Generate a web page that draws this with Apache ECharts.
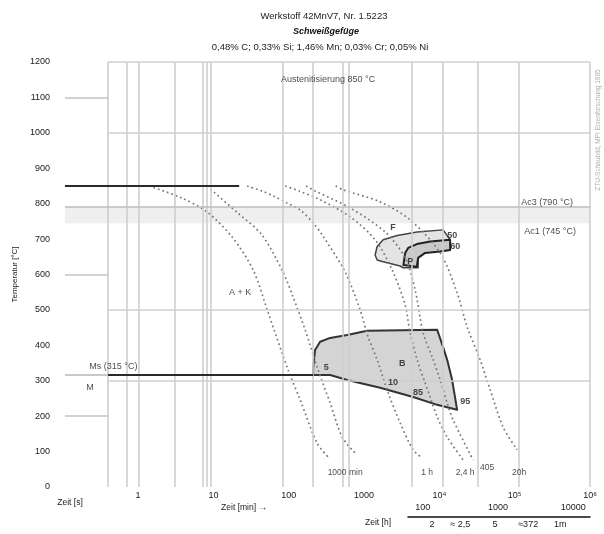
<!DOCTYPE html>
<html><head><meta charset="utf-8">
<script src="https://cdn.jsdelivr.net/npm/echarts@6.0.0/dist/echarts.min.js"></script>
<style>html,body{margin:0;padding:0;background:#fff;}#chart{width:604px;height:534px;}</style>
</head><body><div id="chart"></div>
<script>
// ---------------- data ----------------
const titleLines = ['Werkstoff 42MnV7, Nr. 1.5223', 'Schweißgefüge', '0,48% C; 0,33% Si; 1,46% Mn; 0,03% Cr; 0,05% Ni'];
const timeTickExponents = [0, 1, 2, 3, 4, 5, 6];
const timeTickLabels = ['1', '10', '100', '1000', '10⁴', '10⁵', '10⁶'];
const minuteTicks = [100, 1000, 10000];
const row3TickSeconds = [8000, 18900, 55000, 151000, 402000];
const row3TickLabels = ['2', '≈ 2,5', '5', '≈372', '1m'];
const gridTimes = [0.4, 0.71, 1.03, 3.1, 7.3, 8.2, 9.3, 84, 211, 527, 634, 4360, 10900, 32700, 111000, 1000000];
const gridTemps = [1200, 1000, 500, 300];
const sideTickTemps = [1100, 600, 200];
const austenitizingTemp = 850, austenitizingUntil = 22;
const ac3Temp = 790, ac1Temp = 745;
const msTemp = 316, msUntil = 211;

// cooling curves [time s, temperature °C]
const curve1 = [[1.4,850],[3.8,816],[8.2,777],[17.7,706],[33.7,613],[53,494],[98,331],[142,246],[238,124],[333,85]];
const curve2 = [[8.2,850],[21,774],[44,712],[84,607],[114,537],[165,444],[245,331],[355,237],[512,141],[762,96]];
const curve3 = [[28,850],[45,835],[62,822],[95,802],[142,782],[211,746],[278,712],[561,607],[887,500],[1132,424],[1493,359],[2089,266],[3013,181],[4487,105],[5916,82]];
const curve4 = [[90,850],[140,835],[261,811],[653,763],[1403,698],[2360,613],[3516,514],[4093,435],[5224,350],[6471,294],[7551,254],[9354,198],[12700,141],[20700,76]];
const curve5 = [[170,850],[230,835],[653,788],[1905,720],[3516,647],[4775,556],[6095,435],[8017,367],[10260,302],[12700,237],[15240,189],[28120,76]];
const curve6 = [[420,850],[527,839],[1637,805],[4093,754],[10260,661],[17220,548],[23390,452],[34830,359],[47320,274],[70310,169],[107900,105]];

// transformation regions [time s, temperature °C]
const ferriteArea = [[11220,726],[5070,720],[2754,710],[1795,698],[1493,679],[1403,655],[1493,641],[1795,636],[3013,624],[3304,619],[5224,619],[5224,647],[6471,664],[10260,669],[13900,672],[13900,698]];
const pearliteArea = [[13900,698],[7551,693],[5023,686],[3855,675],[3516,661],[3334,627],[5023,622],[5224,647],[6471,661],[10260,665],[13900,669]];
const bainiteArea = [[211,316],[211,336],[224,387],[261,410],[355,421],[597,429],[1099,441],[9354,444],[11220,395],[12700,359],[14790,302],[17220,218],[9354,232],[4487,254],[1637,280],[597,302],[355,316],[238,316]];

// texts anchored in the diagram [time s, temperature °C, text]
const plotNotes = [[333,1150,'Austenitisierung 850 °C'],[270000,802,'Ac3 (790 °C)'],[295000,720,'Ac1 (745 °C)'],[22.6,548,'A + K'],[0.47,339,'Ms (315 °C)'],[0.23,280,'M']];
const regionLabels = [[2433,732,'F'],[4093,636,'P'],[14800,709,'50'],[16220,679,'60'],[3206,350,'B'],[314,336,'5'],[2433,294,'10'],[5224,266,'85'],[22000,240,'95']];
const curveEndLabels = [[561,40,'1000 min'],[6887,40,'1 h'],[22000,40,'2,4 h'],[43150,56,'405'],[114800,40,'20h']];

// ---------------- layout / style ----------------
const W = 604, H = 534;
const gridLeft = 65, gridRight = 14, gridTop = 62, gridBottom = 47;
const xMinExp = -0.97, xMaxExp = 6;
const pxPerDecade = (W - gridLeft - gridRight) / (xMaxExp - xMinExp);
const subAxisLeft = 408;
const subMinExp = xMaxExp - (W - gridRight - subAxisLeft) / pxPerDecade;
const FONT = 'Liberation Sans, Arial, sans-serif';
const L = v => Math.log10(v);
const xInner = L(gridTimes[0]);

const lightGrid = {color:'#cfcfcf', width:1.6, type:'solid'};
const darkLine = {color:'#2a2a2a', width:2, type:'solid'};

const regions = [
  {pts: ferriteArea, fill:'#e4e4e4', stroke:'#444', lw:1.5},
  {pts: pearliteArea, fill:'#c9c9c9', stroke:'#222', lw:2},
  {pts: bainiteArea, fill:'#d4d4d4', stroke:'#333', lw:2}
];
const curves = [curve1, curve2, curve3, curve4, curve5, curve6];

function labelOf(list, labels, v, conv){
  for (let i=0;i<list.length;i++){ if (Math.abs(conv(list[i]) - v) < 1e-6) return labels[i]; }
  return '';
}

const series = [];
series.push({
  type:'line', data:[], silent:true, z:1, animation:false,
  markArea:{silent:true, itemStyle:{color:'#efefef'}, data:[[{coord:[xMinExp, ac1Temp]},{coord:[xMaxExp, ac3Temp]}]]},
  markLine:{silent:true, symbol:['none','none'], label:{show:false}, lineStyle:lightGrid, animation:false,
    data: [].concat(
      gridTimes.map(t => ({xAxis: L(t)})),
      gridTemps.map(T => [{coord:[xInner, T]},{coord:[xMaxExp, T]}]),
      sideTickTemps.map(T => [{coord:[xMinExp, T], lineStyle:{color:'#c4c4c4', width:1.5}},{coord:[xInner, T]}]),
      [[{coord:[xMinExp, ac3Temp], lineStyle:{color:'#bdbdbd', width:1.6}},{coord:[xMaxExp, ac3Temp]}]],
      [[{coord:[xMinExp, msTemp], lineStyle:{color:'#c8c8c8', width:2}},{coord:[xInner, msTemp]}]]
    )}
});
series.push({
  type:'custom', z:2, animation:false, silent:true,
  data: regions.map((r,i) => [i, 0]),
  renderItem: function(params, api){
    const r = regions[params.dataIndex];
    const pts = r.pts.map(p => api.coord([L(p[0]), p[1]]));
    return {type:'polygon', shape:{points:pts}, style:{fill:r.fill, stroke:r.stroke, lineWidth:r.lw, lineJoin:'round'}};
  }
});
curves.forEach((c, i) => {
  series.push({
    type:'line', name:'k'+i, z:3, animation:false, silent:true, showSymbol:false, smooth:0.3,
    data: c.map(p => [L(p[0]), p[1]]),
    lineStyle:{color:'#777', width:1.7, type:[1.7, 3], cap:'butt'}
  });
});
series.push({
  type:'line', data:[], z:4, silent:true, animation:false,
  markLine:{silent:true, symbol:['none','none'], label:{show:false}, lineStyle:darkLine, animation:false,
    data:[
      [{coord:[xMinExp, austenitizingTemp]},{coord:[L(austenitizingUntil), austenitizingTemp]}],
      [{coord:[xInner, msTemp]},{coord:[L(msUntil), msTemp]}]
    ]}
});
function textSeries(list, style){
  return {
    type:'scatter', z:6, silent:true, animation:false, symbolSize:0,
    data: list.map(a => [L(a[0]), a[1], a[2]]),
    label:Object.assign({show:true, position:'inside', formatter: p => p.data[2], fontFamily:FONT, color:'#1a1a1a'}, style)
  };
}
series.push(textSeries(plotNotes, {fontSize:9}));
series.push(textSeries(regionLabels, {fontSize:9, fontWeight:'bold'}));
series.push(textSeries(curveEndLabels, {fontSize:8.5}));

const option = {
  animation:false,
  backgroundColor:'#fff',
  textStyle:{fontFamily:FONT},
  grid:[
    {left:gridLeft, right:gridRight, top:gridTop, bottom:gridBottom},
    {left:subAxisLeft, right:gridRight, top:516, height:1}
  ],
  xAxis:[
    {type:'value', gridIndex:0, min:xMinExp, max:xMaxExp,
     axisLine:{show:false}, axisTick:{show:false}, splitLine:{show:false},
     axisLabel:{customValues:timeTickExponents, formatter: v => labelOf(timeTickExponents, timeTickLabels, v, x=>x),
       margin:4, fontSize:9, color:'#1a1a1a', fontFamily:FONT}},
    {type:'value', gridIndex:1, min:subMinExp, max:xMaxExp, position:'top',
     axisLine:{show:true, lineStyle:{color:'#111', width:1.5}}, axisTick:{show:false}, splitLine:{show:false},
     axisLabel:{customValues:minuteTicks.map(m => L(m*60)), formatter: v => labelOf(minuteTicks, minuteTicks.map(String), v, m => L(m*60)),
       margin:4, fontSize:9, color:'#1a1a1a', fontFamily:FONT, showMinLabel:true, showMaxLabel:true}},
    {type:'value', gridIndex:1, min:subMinExp, max:xMaxExp, position:'bottom',
     axisLine:{show:false}, axisTick:{show:false}, splitLine:{show:false},
     axisLabel:{customValues:row3TickSeconds.map(L), formatter: v => labelOf(row3TickSeconds, row3TickLabels, v, L),
       margin:3, fontSize:9, color:'#1a1a1a', fontFamily:FONT, showMinLabel:true, showMaxLabel:true}}
  ],
  yAxis:[
    {type:'value', gridIndex:0, min:0, max:1200, interval:100,
     axisLine:{show:false}, axisTick:{show:false}, splitLine:{show:false},
     axisLabel:{margin:15, fontSize:9, color:'#1a1a1a', fontFamily:FONT, formatter: v => String(v)},
     name:'Temperatur [°C]', nameLocation:'middle', nameGap:46, nameRotate:90,
     nameTextStyle:{fontSize:8, color:'#222', fontFamily:FONT}},
    {type:'value', gridIndex:1, min:0, max:1, show:false}
  ],
  graphic:[
    {type:'text', x:324, y:16, style:{text:titleLines[0], font:'9.5px '+FONT, fill:'#222', textAlign:'center', textVerticalAlign:'middle'}},
    {type:'text', x:326, y:32, style:{text:titleLines[1], font:'italic bold 9px '+FONT, fill:'#111', textAlign:'center', textVerticalAlign:'middle'}},
    {type:'text', x:320, y:47, style:{text:titleLines[2], font:'9.5px '+FONT, fill:'#222', textAlign:'center', textVerticalAlign:'middle'}},
    {type:'text', x:598, y:130, rotation:Math.PI/2, style:{text:'ZTU-Schaubild, MPI Eisenforschung 1995', font:'6.5px '+FONT, fill:'#b0b0b0', textAlign:'center', textVerticalAlign:'middle'}},
    {type:'text', x:70, y:503, style:{text:'Zeit [s]', font:'8.5px '+FONT, fill:'#222', textAlign:'center', textVerticalAlign:'middle'}},
    {type:'text', x:244, y:508, style:{text:'Zeit [min] →', font:'8.5px '+FONT, fill:'#222', textAlign:'center', textVerticalAlign:'middle'}},
    {type:'text', x:378, y:523, style:{text:'Zeit [h]', font:'8.5px '+FONT, fill:'#222', textAlign:'center', textVerticalAlign:'middle'}}
  ],
  series: series
};
const chart = echarts.init(document.getElementById('chart'), null, {renderer:'canvas', width:W, height:H});
chart.setOption(option);
</script>
</body></html>
